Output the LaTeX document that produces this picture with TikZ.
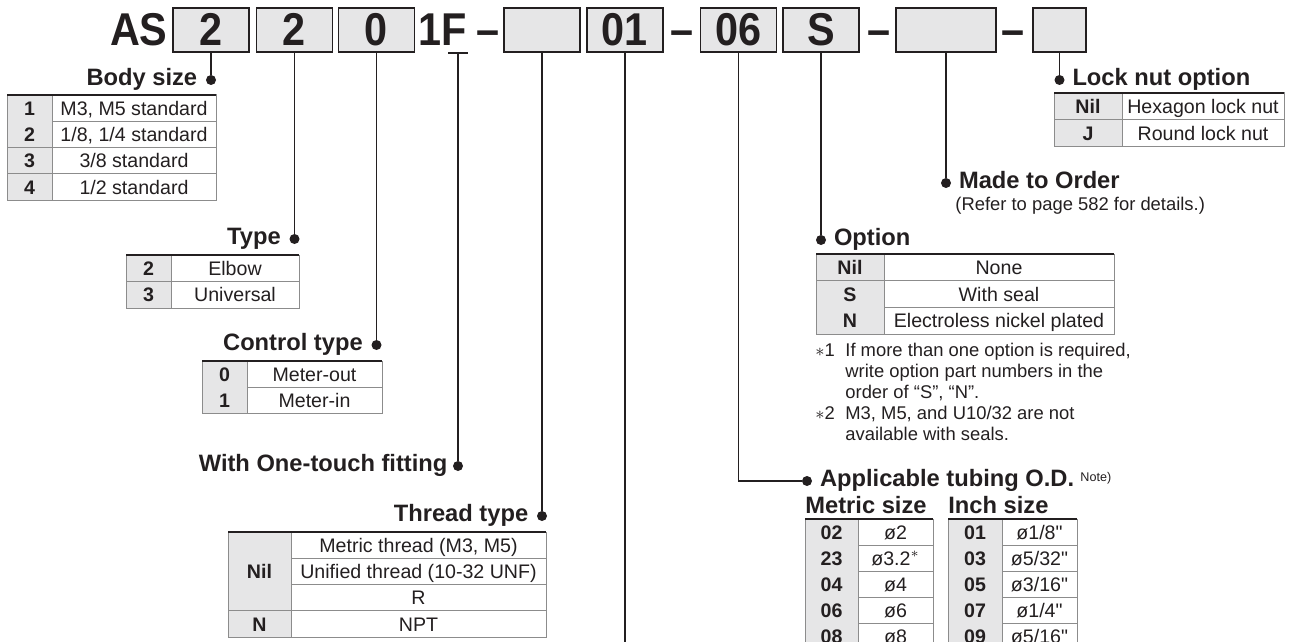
\documentclass[tikz,border=0pt]{standalone}
\usepackage{fontspec}
\setmainfont{Liberation Sans}
\newfontfamily\condfont{Liberation Sans}[FakeStretch=0.9]
\usepackage{tikz}
\usetikzlibrary{calc,positioning}
\definecolor{ink}{HTML}{231F20}
\definecolor{keygray}{HTML}{E6E6E7}
\definecolor{rulegray}{HTML}{8C8C8C}
\newcommand{\hdrfont}{\condfont\bfseries\fontsize{23}{24}\selectfont}
\newcommand{\titlefont}{\bfseries\fontsize{11.85}{14}\selectfont}
\newcommand{\cellfont}{\fontsize{9.8}{12}\selectfont}
\newcommand{\notefont}{\fontsize{9.2}{11}\selectfont}
% #1 name, #2 left, #3 divider, #4 right, #5 top, #6 row height, #7 rows, #8 key/value list
\newcommand{\codetable}[8]{%
	\foreach \ckey/\cval [count=\i] in {#8} {
		\fill[keygray] (#2,{#5-(\i-1)*#6}) rectangle (#3,{#5-\i*#6});
		\node[keycell] (#1k\i) at ({(#2+#3)/2},{#5-(\i-0.5)*#6}) {\ckey};
		\node[valcell] (#1v\i) at ({(#3+#4)/2},{#5-(\i-0.5)*#6}) {\cval};
		\draw[tabrule] (#2,{#5-\i*#6}) -- (#4,{#5-\i*#6});
	}
	\draw[tabrule] (#2,#5) rectangle (#4,{#5-#7*#6});
	\draw[tabrule] (#3,#5) -- (#3,{#5-#7*#6});
	\draw[tabtop] (#2,#5) -- (#4,#5);
}

\begin{document}
\begin{tikzpicture}[x=0.5pt,y=0.5pt]
	\tikzstyle{every node}+=[inner sep=0pt, text=ink]
	\tikzstyle{codebox}=[draw=ink, fill=keygray, line width=0.7pt, minimum width=38pt, minimum height=22pt, font=\hdrfont, text height=16pt, text depth=0pt]
	\tikzstyle{hdr}=[font=\hdrfont, anchor=base]
	\tikzstyle{lead}=[draw=ink, line width=0.75pt]
	\tikzstyle{dot}=[circle, fill=ink, minimum size=5pt]
	\tikzstyle{title}=[font=\titlefont]
	\tikzstyle{note}=[font=\notefont]
	\tikzstyle{keycell}=[font=\cellfont\bfseries, text height=7pt, text depth=0pt]
	\tikzstyle{valcell}=[font=\cellfont, text height=7pt, text depth=0pt]
	\tikzstyle{tabrule}=[draw=rulegray, line width=0.5pt]
	\tikzstyle{tabtop}=[draw=ink, line width=1pt]
	\useasboundingbox (0,0) rectangle (1297,-642);

	% part number
	\node[hdr, anchor=base east] (as) at (168,-46) {AS};
	\node[codebox] (b1) at (211,-30) {2};
	\node[codebox] (b2) at (294.5,-30) {2};
	\node[codebox] (b3) at (376.5,-30) {0};
	\node[hdr] (f) at (443,-46) {1F};
	\node[hdr] (m1) at (488.5,-46) {–};
	\node[codebox] (e1) at (542,-30) {};
	\node[codebox] (b01) at (625,-30) {01};
	\node[hdr] (m2) at (682.5,-46) {–};
	\node[codebox] (b06) at (738.5,-30) {06};
	\node[codebox] (bS) at (821,-30) {S};
	\node[hdr] (m3) at (879,-46) {–};
	\node[codebox, minimum width=50pt] (e2) at (946,-30) {};
	\node[hdr] (m4) at (1013.5,-46) {–};
	\node[codebox, minimum width=26.5pt] (e3) at (1059.5,-30) {};

	% dots and titles
	\node[dot] (dBody) at (211,-80) {};
	\node[dot] (dType) at (294.5,-239) {};
	\node[dot] (dCtrl) at (376.5,-345) {};
	\node[dot] (dFit) at (458,-466) {};
	\node[dot] (dThread) at (542,-516) {};
	\node[dot] (dTube) at (807,-481) {};
	\node[dot] (dOpt) at (821,-240) {};
	\node[dot] (dMade) at (946,-183) {};
	\node[dot] (dLock) at (1059.5,-80) {};
	\coordinate (fBar) at (458,-53);
	\coordinate (pEnd) at (625,-650);

	\node[title, left=4pt of dBody, anchor=mid east] (tBody) {Body size};
	\node[title, left=4pt of dType, anchor=mid east] (tType) {Type};
	\node[title, left=4pt of dCtrl, anchor=mid east] (tCtrl) {Control type};
	\node[title, left=2.4pt of dFit, anchor=mid east] (tFit) {With One-touch fitting};
	\node[title, left=4pt of dThread, anchor=mid east] (tThread) {Thread type};
	\node[title, right=3.6pt of dTube, anchor=mid west] (tTube) {Applicable tubing O.D.};
	\node[font=\fontsize{6.3}{7}\selectfont, anchor=base west] (tNote) at (1080,-481) {Note)};
	\node[title, anchor=base west] (tMetric) at (805,-513) {Metric size};
	\node[title, anchor=base west] (tInch) at (948,-513) {Inch size};
	\node[title, right=3.6pt of dOpt, anchor=mid west] (tOpt) {Option};
	\node[title, right=3.6pt of dMade, anchor=mid west] (tMade) {Made to Order};
	\node[note, anchor=base west] (tRefer) at (955,-211) {(Refer to page 582 for details.)};
	\node[title, right=3.6pt of dLock, anchor=mid west] (tLock) {Lock nut option};

	% leaders
	\draw[lead] (b1) -- (dBody);
	\draw[lead] (b2) -- (dType);
	\draw[lead] (b3) -- (dCtrl);
	\draw[lead] ([xshift=-5pt]fBar) -- ([xshift=5pt]fBar);
	\draw[lead] (fBar) -- (dFit);
	\draw[lead] (e1) -- (dThread);
	\draw[lead] (b01) -- (pEnd);
	\draw[lead] (b06) |- (dTube);
	\draw[lead] (bS) -- (dOpt);
	\draw[lead] (e2) -- (dMade);
	\draw[lead] (e3) -- (dLock);

	% tables
	\codetable{body}{7}{52}{216}{-95}{26.3}{4}{1/{M3, M5 standard}, 2/{1/8, 1/4 standard}, 3/{3/8 standard}, 4/{1/2 standard}}
	\codetable{type}{126}{171}{299}{-255}{26.5}{2}{2/Elbow, 3/Universal}
	\codetable{ctrl}{202}{247}{382}{-361}{26}{2}{0/Meter-out, 1/Meter-in}
	\codetable{opt}{816}{884}{1114}{-254}{26.7}{3}{Nil/None, S/With seal, N/Electroless nickel plated}
	\codetable{lock}{1054}{1122}{1284}{-93}{27}{2}{Nil/Hexagon lock nut, J/Round lock nut}
	\codetable{metric}{805}{858}{933}{-519}{26}{5}{02/ø2, 23/{ø3.2\textsuperscript{$\ast$}}, 04/ø4, 06/ø6, 08/ø8}
	\codetable{inch}{948}{1002}{1077}{-519}{26}{5}{01/{ø1/8\textquotedbl}, 03/{ø5/32\textquotedbl}, 05/{ø3/16\textquotedbl}, 07/{ø1/4\textquotedbl}, 09/{ø5/16\textquotedbl}}

	% thread table, key cell over three rows
	\fill[keygray] (228,-532) rectangle (291,-637.2);
	\node[keycell] (thrk1) at (259.5,-571.45) {Nil};
	\node[keycell] (thrk2) at (259.5,-624.05) {N};
	\node[valcell] (thrv1) at (418.5,-545.15) {Metric thread (M3, M5)};
	\node[valcell] (thrv2) at (418.5,-571.45) {Unified thread (10-32 UNF)};
	\node[valcell] (thrv3) at (418.5,-597.75) {R};
	\node[valcell] (thrv4) at (418.5,-624.05) {NPT};
	\draw[tabrule] (291,-558.3) -- (546,-558.3);
	\draw[tabrule] (291,-584.6) -- (546,-584.6);
	\draw[tabrule] (228,-610.9) -- (546,-610.9);
	\draw[tabrule] (228,-532) rectangle (546,-637.2);
	\draw[tabrule] (291,-532) -- (291,-637.2);
	\draw[tabtop] (228,-532) -- (546,-532);

	% notes
	\node[note, anchor=base west] (n1m) at (815,-356) {$\ast$1};
	\node[note, anchor=base west] (n1a) at (845,-356) {If more than one option is required,};
	\node[note, anchor=base west] (n1b) at (845,-377) {write option part numbers in the};
	\node[note, anchor=base west] (n1c) at (845,-398) {order of ``S'', ``N''.};
	\node[note, anchor=base west] (n2m) at (815,-419) {$\ast$2};
	\node[note, anchor=base west] (n2a) at (845,-419) {M3, M5, and U10/32 are not};
	\node[note, anchor=base west] (n2b) at (845,-440) {available with seals.};
\end{tikzpicture}
\end{document}
